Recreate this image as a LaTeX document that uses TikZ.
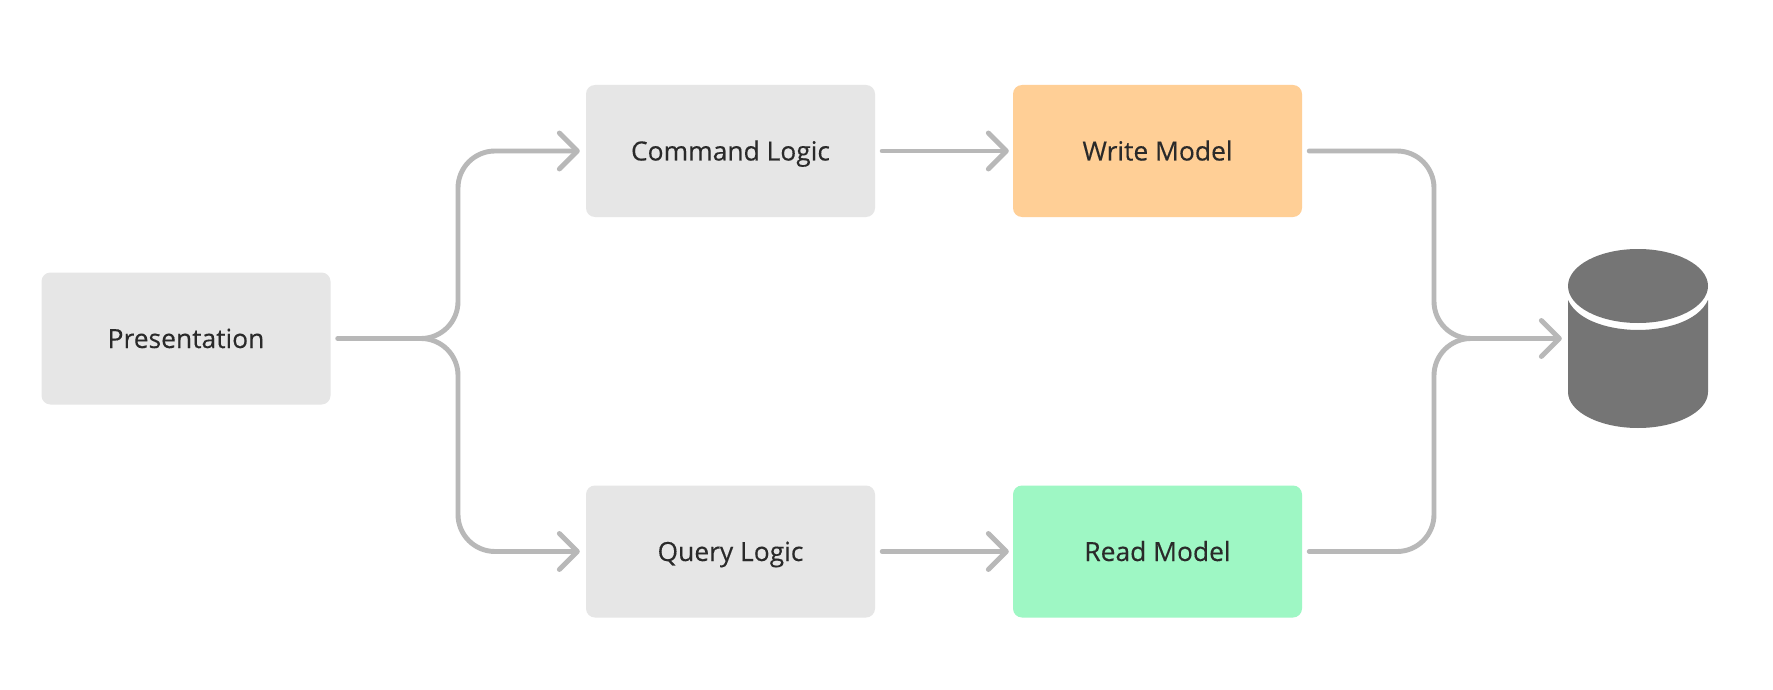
\documentclass[tikz,border=0pt]{standalone}
\usepackage{fontspec}
\setmainfont[FakeBold=0.25]{Open Sans}
\usetikzlibrary{arrows.meta}
\definecolor{boxgray}{HTML}{E6E6E6}
\definecolor{linegray}{HTML}{B8B8B8}
\definecolor{orangebox}{HTML}{FFCF96}
\definecolor{greenbox}{HTML}{9EF7C4}
\definecolor{dbgray}{HTML}{757575}
\definecolor{inktext}{HTML}{2A2A2A}
\tikzset{
  x=1pt,y=-1pt,
  box/.style={rounded corners=9pt,minimum width=289pt,minimum height=132pt,inner sep=0pt,
    text=inktext,font=\fontsize{26.4pt}{30pt}\selectfont,text height=22pt,text depth=3pt,fill=boxgray,anchor=center},
  conn/.style={draw=linegray,line width=4.9pt,line cap=round,line join=round},
  arr/.style={conn,-{Straight Barb[length=18pt,width=36pt,line cap=round,round]}},
  shstart/.style={shorten <=7pt},
  shend/.style={shorten >=6pt},
  shendnear/.style={shorten >=4pt},
}
\begin{document}
\begin{tikzpicture}
\useasboundingbox (0,0) rectangle (1773,690);
\fill[white] (0,0) rectangle (1773,690);
\node[box] (pres) at (186,338.5) {Presentation};
\node[box] (cmd) at (730.5,151) {Command Logic};
\node[box] (qry) at (730.5,551.5) {Query Logic};
\node[box,fill=orangebox] (write) at (1157.5,151) {Write Model};
\node[box,fill=greenbox] (read) at (1157.5,551.5) {Read Model};
\node[minimum width=140pt,minimum height=179pt,inner sep=0pt] (db) at (1638,338.5) {};
% database
\fill[dbgray] (1568,300) .. controls (1578,322) and (1612,330) .. (1638,330)
  .. controls (1664,330) and (1698,322) .. (1708,300) -- (1708,392)
  .. controls (1708,412) and (1676,428) .. (1638,428)
  .. controls (1600,428) and (1568,412) .. (1568,392) -- cycle;
\fill[dbgray] (1638,286) ellipse[x radius=70,y radius=37];
% connectors
\coordinate (splitL) at (458,338.5);
\coordinate (splitR) at (1434,338.5);
\draw[conn,shstart] (pres.east) -- (425,338.5);
\draw[arr,rounded corners=37pt,shend] (415,338.5) -- (splitL) |- (cmd.west);
\draw[arr,rounded corners=37pt,shend] (415,338.5) -- (splitL) |- (qry.west);
\draw[arr,shstart,shendnear] (cmd.east) -- (write.west);
\draw[arr,shstart,shendnear] (qry.east) -- (read.west);
\draw[conn,rounded corners=37pt,shstart] (write.east) -| (splitR) -- (1477,338.5);
\draw[conn,rounded corners=37pt,shstart] (read.east) -| (splitR) -- (1477,338.5);
\draw[arr,shend] (1465,338.5) -- (db.west);
\end{tikzpicture}
\end{document}
